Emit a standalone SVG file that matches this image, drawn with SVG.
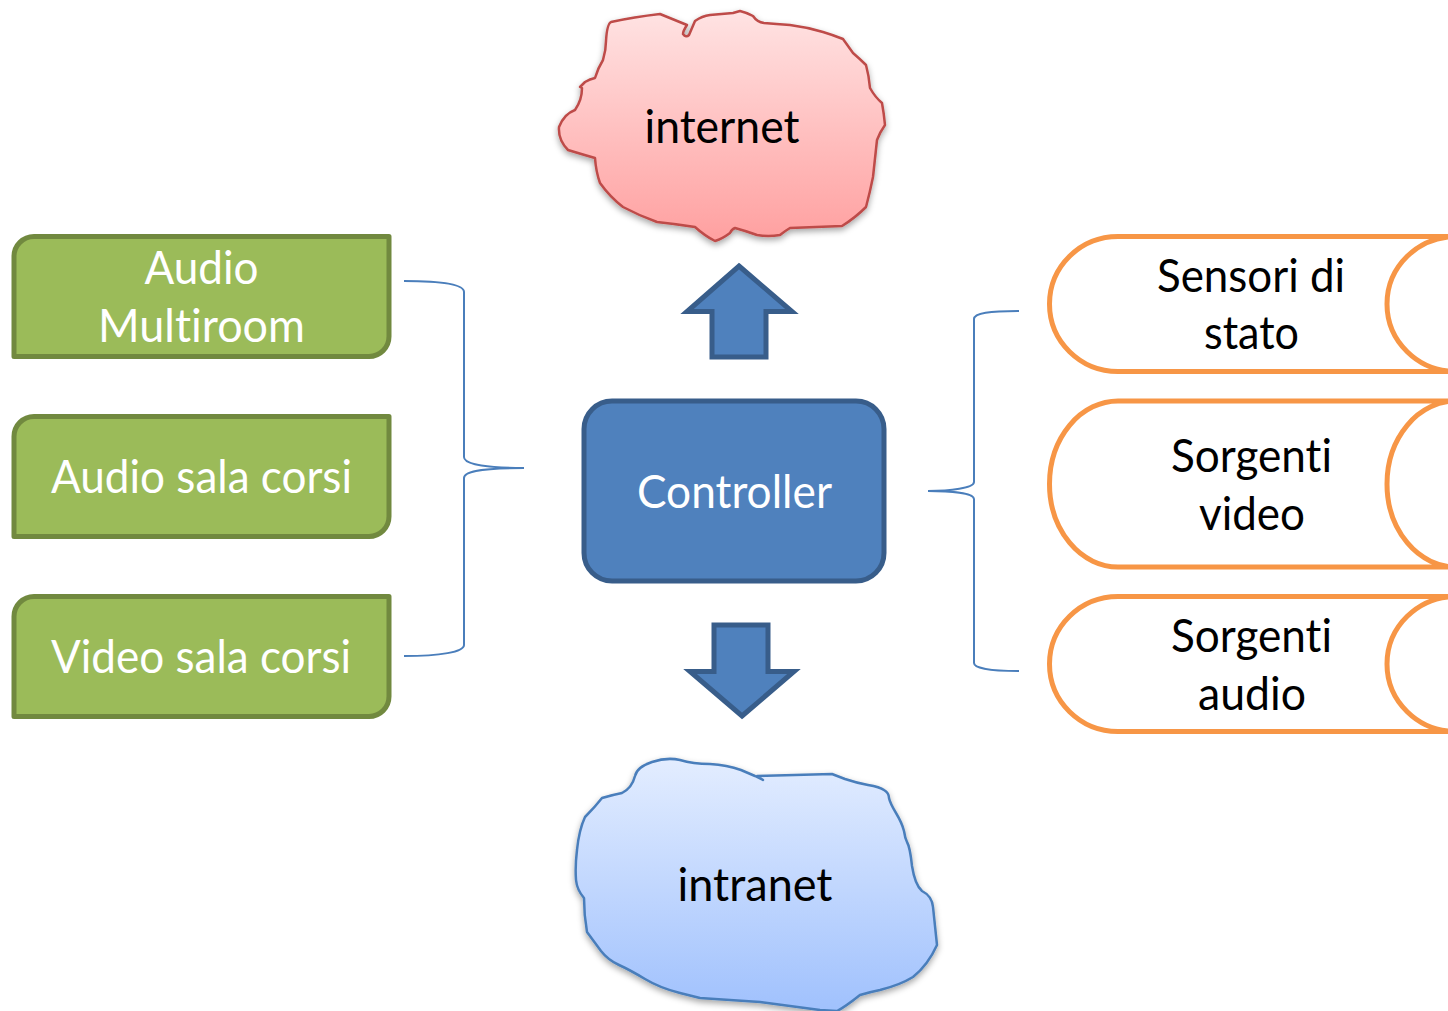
<svg xmlns="http://www.w3.org/2000/svg" width="1448" height="1011" viewBox="0 0 1448 1011">
<style>
text{font-family:Lato,"Open Sans","Liberation Sans",sans-serif;font-size:46px;text-anchor:middle;font-variant-ligatures:none}
.w{fill:#fff}.k{fill:#000}
.g{fill:#9bbb59;stroke:#71893f;stroke-width:5;stroke-linejoin:round}
.o{fill:#fff;stroke:#f79646;stroke-width:5}
.b{fill:#4f81bd;stroke:#385d8a;stroke-width:5}
.br{fill:none;stroke:#4a7ebb;stroke-width:2}
</style>
<defs>
<linearGradient id="red" x1="0" y1="0" x2="0" y2="1"><stop offset="0" stop-color="#ffe3e3"/><stop offset="1" stop-color="#ffa0a0"/></linearGradient>
<linearGradient id="blue" x1="0" y1="0" x2="0" y2="1"><stop offset="0" stop-color="#e3edff"/><stop offset="1" stop-color="#a0c1fd"/></linearGradient>
<filter id="sh" x="-10%" y="-10%" width="120%" height="120%"><feDropShadow dx="0" dy="3" stdDeviation="3" flood-color="#000" flood-opacity="0.35"/></filter>
<path id="gb" d="M34,0H389V100A20,20 0 0 1 369,120H14V20A20,20 0 0 1 34,0Z"/>
</defs>
<rect width="1448" height="1011" fill="#fff"/>
<g id="connectors">
<path class="br" d="M404,281C440,281 464,284 464,292V457C464,465 490,468 524,468C490,468 464,470 464,478V645C464,652 440,656 404,656"/>
<path class="br" d="M1019,311C990,311 974,313 974,319V482C974,488 950,491 928,491C950,491 974,493 974,499V663C974,668 990,671 1019,671"/>
</g>
<g id="internet">
<path filter="url(#sh)" fill="url(#red)" stroke="#be4b48" stroke-width="2.500" stroke-linejoin="round" d="M606,41Q607,24 611,22Q634,17 660,14L687,25Q683,31 683,34Q686,38 689,35Q692,28 695,21Q702,16 710,15Q721,14 733,13L740,11Q748,13 753,16Q757,22 764,23Q776,24 790,25Q806,27 823,32Q833,35 843,39Q848,46 853,53Q860,59 866,65Q869,76 870,88Q875,97 882,103Q884,114 885,125Q880,132 877,140Q875,158 873,177Q870,192 866,207Q855,218 842,226Q816,227 790,228Q785,231 780,235Q768,237 757,235Q746,231 735,228Q732,229 730,233Q722,239 715,241Q705,236 695,227Q676,224 657,222Q640,216 623,207Q610,197 600,183Q596,172 595,158Q581,154 568,150Q558,140 559,127Q564,114 575,110Q582,100 582,88L580,87L585,82Q590,79 595,78Q598,68 603,60Q606,50 606,41Z"/>
<text class="k" x="722" y="143" textLength="155" lengthAdjust="spacingAndGlyphs">internet</text>
</g>
<g id="intranet">
<path filter="url(#sh)" fill="url(#blue)" stroke="#4a7ebb" stroke-width="2.500" stroke-linejoin="round" d="M755,776L763,780L757,776L832,774L845,779Q857,783 868,785Q880,787 884,790Q889,793 889,798Q890,803 896,813Q902,823 904,831Q905,838 907,842Q910,847 912,866Q915,885 922,891Q932,896 933,907L937,945Q928,965 913,977Q900,985 880,990Q870,992 860,995Q845,1007 837,1011L820,1010L760,1002L700,998L680,993Q660,988 645,979Q630,970 619,965Q608,960 601,951L587,932Q584,915 584,898Q577,890 576,880Q575,866 577,850Q579,830 585,817Q595,807 602,798Q612,795 622,793Q632,788 635,776Q637,767 652,762Q667,757 680,760Q693,764 710,764Q727,765 741,770Z"/>
<text class="k" x="755" y="901" textLength="155" lengthAdjust="spacingAndGlyphs">intranet</text>
</g>
<g id="audio-multiroom">
<use href="#gb" class="g" x="0" y="236.500"/>
<text class="w" x="201.500" y="284" textLength="114" lengthAdjust="spacingAndGlyphs">Audio</text>
<text class="w" x="201.500" y="342" textLength="207" lengthAdjust="spacingAndGlyphs">Multiroom</text>
</g>
<g id="audio-sala-corsi">
<use href="#gb" class="g" x="0" y="416.500"/>
<text class="w" x="201.500" y="493" textLength="301" lengthAdjust="spacingAndGlyphs">Audio sala corsi</text>
</g>
<g id="video-sala-corsi">
<use href="#gb" class="g" x="0" y="596.500"/>
<text class="w" x="201" y="673" textLength="300" lengthAdjust="spacingAndGlyphs">Video sala corsi</text>
</g>
<g id="controller">
<rect class="b" x="584" y="401" width="300" height="180" rx="28"/>
<text class="w" x="734.500" y="508" textLength="195" lengthAdjust="spacingAndGlyphs">Controller</text>
</g>
<g id="arrow-up"><path class="b" d="M739,266L792,311.500H766V357H712V311.500H687Z" stroke-width="4"/></g>
<g id="arrow-down"><path class="b" d="M742,716L794,671.500H768V625H714V671.500H690Z" stroke-width="4"/></g>
<g id="sensori">
<path class="o" d="M1456,236.500H1118A68.500,67.500 0 0 0 1118,371.500H1456A69,67.500 0 0 1 1456,236.500Z"/>
<text class="k" x="1251" y="292" textLength="188" lengthAdjust="spacingAndGlyphs">Sensori di</text>
<text class="k" x="1251.500" y="349" textLength="95" lengthAdjust="spacingAndGlyphs">stato</text>
</g>
<g id="sorgenti-video">
<path class="o" d="M1456,401H1118A68.500,83 0 0 0 1118,567H1456A69,83 0 0 1 1456,401Z"/>
<text class="k" x="1251.500" y="472" textLength="161" lengthAdjust="spacingAndGlyphs">Sorgenti</text>
<text class="k" x="1252" y="530" textLength="106" lengthAdjust="spacingAndGlyphs">video</text>
</g>
<g id="sorgenti-audio">
<path class="o" d="M1456,596.500H1118A68.500,67.500 0 0 0 1118,731.500H1456A69,67.500 0 0 1 1456,596.500Z"/>
<text class="k" x="1251.500" y="652" textLength="161" lengthAdjust="spacingAndGlyphs">Sorgenti</text>
<text class="k" x="1252" y="710" textLength="108" lengthAdjust="spacingAndGlyphs">audio</text>
</g>
</svg>
